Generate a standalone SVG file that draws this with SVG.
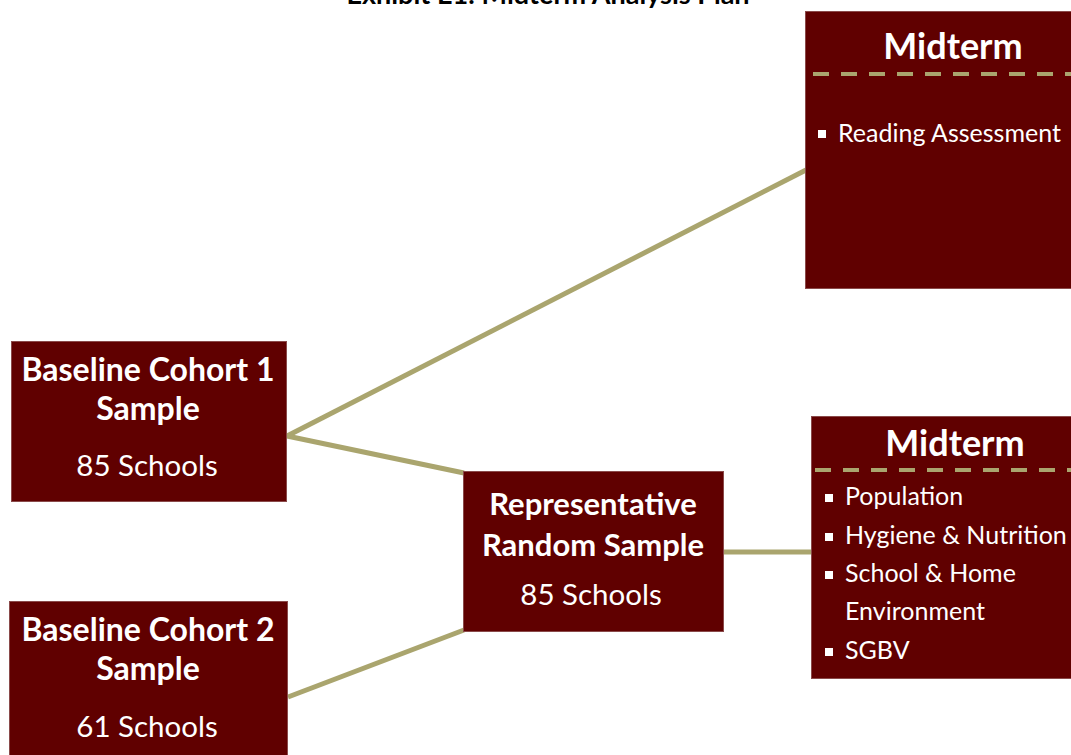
<svg xmlns="http://www.w3.org/2000/svg" width="1071" height="755" viewBox="0 0 1071 755">
<style>
.box{fill:#600000;stroke:#8a4a4a;stroke-width:1}
.conn{stroke:#aaa56e;stroke-width:5;fill:none}
.dash{stroke:#aaa56e;stroke-width:4;stroke-dasharray:16 12}
.t{font-family:Lato,"Open Sans","Liberation Sans",sans-serif;fill:#fff}
.hb{font-weight:bold;font-size:32px;text-anchor:middle}
.hr{font-weight:bold;font-size:31px;text-anchor:middle}
.hm{font-weight:bold;font-size:36px;text-anchor:middle}
.n{font-size:29.5px;text-anchor:middle}
.li{font-size:25px}
.bul{fill:#fff}
</style>
<rect width="1071" height="755" fill="#fff"/>
<text x="548" y="3.5" class="t" style="fill:#000;font-weight:bold;font-size:27px;text-anchor:middle">Exhibit E1: Midterm Analysis Plan</text>
<g id="connectors">
<line class="conn" x1="287" y1="436" x2="806" y2="170"/>
<line class="conn" x1="287" y1="436" x2="464" y2="473"/>
<line class="conn" x1="288" y1="697" x2="464" y2="630"/>
<line class="conn" x1="724" y1="552" x2="811" y2="552"/>
</g>
<g id="midterm1">
<rect class="box" x="805.5" y="11.5" width="270" height="277"/>
<text x="953" y="59" class="t hm">Midterm</text>
<line class="dash" x1="813" y1="74" x2="1071" y2="74"/>
<rect class="bul" x="818" y="130" width="8" height="8"/>
<text x="838" y="142" class="t li">Reading Assessment</text>
</g>
<g id="midterm2">
<rect class="box" x="811.5" y="416.5" width="265" height="262"/>
<text x="955" y="456" class="t hm">Midterm</text>
<line class="dash" x1="815" y1="470" x2="1071" y2="470"/>
<rect class="bul" x="825" y="494" width="8" height="8"/>
<text x="845" y="505" class="t li">Population</text>
<rect class="bul" x="825" y="533" width="8" height="8"/>
<text x="845" y="544" class="t li">Hygiene &amp; Nutrition</text>
<rect class="bul" x="825" y="571" width="8" height="8"/>
<text x="845" y="582" class="t li">School &amp; Home</text>
<text x="845" y="620" class="t li">Environment</text>
<rect class="bul" x="825" y="648" width="8" height="8"/>
<text x="845" y="659" class="t li">SGBV</text>
</g>
<g id="cohort1">
<rect class="box" x="11.5" y="341.5" width="275" height="160"/>
<text x="148" y="381" class="t hb">Baseline Cohort 1</text>
<text x="148" y="420" class="t hb">Sample</text>
<text x="147" y="476" class="t n">85 Schools</text>
</g>
<g id="cohort2">
<rect class="box" x="9.5" y="601.5" width="278" height="160"/>
<text x="148" y="641" class="t hb">Baseline Cohort 2</text>
<text x="148" y="680" class="t hb">Sample</text>
<text x="147" y="737" class="t n">61 Schools</text>
</g>
<g id="random">
<rect class="box" x="463.5" y="471.5" width="260" height="160"/>
<text x="593" y="515" class="t hr">Representative</text>
<text x="593" y="556" class="t hr">Random Sample</text>
<text x="591" y="605" class="t n">85 Schools</text>
</g>
</svg>
